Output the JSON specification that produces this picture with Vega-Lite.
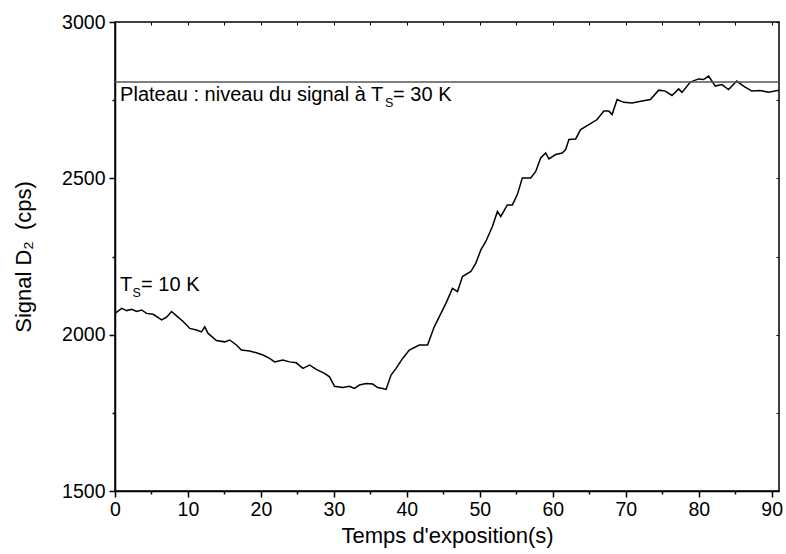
{
  "$schema": "https://vega.github.io/schema/vega-lite/v6.json",
  "width": 664,
  "height": 469,
  "autosize": {"type": "none"},
  "padding": {"left": 115, "top": 22, "right": 7, "bottom": 63},
  "background": "white",
  "config": {
    "font": "Liberation Sans",
    "view": {"stroke": "black", "strokeWidth": 1.5},
    "axis": {"grid": false, "domainColor": "black", "domainWidth": 1.5, "tickColor": "black", "tickWidth": 1.5, "labelColor": "black", "titleColor": "black", "labelFont": "Liberation Sans", "titleFont": "Liberation Sans", "titleFontWeight": "normal", "labelFontSize": 19.5, "titleFontSize": 22}
  },
  "datasets": {
    "signal": [
      {"t": 0, "v": 2068}, {"t": 0.92, "v": 2084}, {"t": 1.6, "v": 2077}, {"t": 2.28, "v": 2081},
      {"t": 2.97, "v": 2074}, {"t": 3.65, "v": 2079}, {"t": 4.33, "v": 2068}, {"t": 5.24, "v": 2065},
      {"t": 6.39, "v": 2047}, {"t": 7.07, "v": 2056}, {"t": 7.75, "v": 2074}, {"t": 8.44, "v": 2060},
      {"t": 9.34, "v": 2042}, {"t": 10.25, "v": 2020}, {"t": 11.17, "v": 2015}, {"t": 11.85, "v": 2009},
      {"t": 12.3, "v": 2025}, {"t": 12.76, "v": 2004}, {"t": 13.9, "v": 1981}, {"t": 15.04, "v": 1977},
      {"t": 15.72, "v": 1983}, {"t": 16.64, "v": 1967}, {"t": 17.32, "v": 1951}, {"t": 18.46, "v": 1948},
      {"t": 19.37, "v": 1942}, {"t": 20.28, "v": 1935}, {"t": 21.19, "v": 1924}, {"t": 21.88, "v": 1913},
      {"t": 23.01, "v": 1919}, {"t": 23.93, "v": 1913}, {"t": 24.84, "v": 1910}, {"t": 25.75, "v": 1892},
      {"t": 26.66, "v": 1903}, {"t": 27.58, "v": 1889}, {"t": 28.71, "v": 1876}, {"t": 29.4, "v": 1865},
      {"t": 30.08, "v": 1835}, {"t": 31.21, "v": 1831}, {"t": 32.13, "v": 1835}, {"t": 32.81, "v": 1828},
      {"t": 33.5, "v": 1839}, {"t": 34.41, "v": 1844}, {"t": 35.32, "v": 1842}, {"t": 36.0, "v": 1831},
      {"t": 36.68, "v": 1828}, {"t": 37.15, "v": 1825}, {"t": 37.83, "v": 1871}, {"t": 38.52, "v": 1892},
      {"t": 39.42, "v": 1924}, {"t": 40.33, "v": 1951}, {"t": 41.7, "v": 1967}, {"t": 42.84, "v": 1967},
      {"t": 43.75, "v": 2025}, {"t": 44.67, "v": 2068}, {"t": 45.35, "v": 2100}, {"t": 46.25, "v": 2148},
      {"t": 46.94, "v": 2138}, {"t": 47.62, "v": 2186}, {"t": 48.77, "v": 2202}, {"t": 49.45, "v": 2229},
      {"t": 50.14, "v": 2271}, {"t": 50.82, "v": 2298}, {"t": 51.72, "v": 2346}, {"t": 52.41, "v": 2394},
      {"t": 52.87, "v": 2378}, {"t": 53.77, "v": 2415}, {"t": 54.46, "v": 2415}, {"t": 55.14, "v": 2448},
      {"t": 55.82, "v": 2501}, {"t": 56.97, "v": 2501}, {"t": 57.66, "v": 2522}, {"t": 58.34, "v": 2565},
      {"t": 59.02, "v": 2581}, {"t": 59.47, "v": 2562}, {"t": 60.39, "v": 2576}, {"t": 61.29, "v": 2581},
      {"t": 61.76, "v": 2592}, {"t": 62.21, "v": 2624}, {"t": 63.13, "v": 2626}, {"t": 63.81, "v": 2656},
      {"t": 64.94, "v": 2672}, {"t": 66.08, "v": 2688}, {"t": 66.99, "v": 2715}, {"t": 67.68, "v": 2715},
      {"t": 68.13, "v": 2704}, {"t": 68.81, "v": 2752}, {"t": 69.73, "v": 2743}, {"t": 70.86, "v": 2741},
      {"t": 72.23, "v": 2747}, {"t": 73.38, "v": 2752}, {"t": 74.51, "v": 2782}, {"t": 75.43, "v": 2779},
      {"t": 76.33, "v": 2765}, {"t": 77.25, "v": 2786}, {"t": 77.7, "v": 2775}, {"t": 78.85, "v": 2808},
      {"t": 79.98, "v": 2818}, {"t": 80.67, "v": 2816}, {"t": 81.35, "v": 2827}, {"t": 82.27, "v": 2795},
      {"t": 83.17, "v": 2800}, {"t": 84.08, "v": 2784}, {"t": 85.22, "v": 2811}, {"t": 86.14, "v": 2795},
      {"t": 87.27, "v": 2779}, {"t": 88.42, "v": 2781}, {"t": 89.55, "v": 2775}, {"t": 91.0, "v": 2782}
    ]
  },
  "layer": [
    {
      "data": {"name": "signal"},
      "mark": {"type": "line", "color": "black", "strokeWidth": 1.5, "clip": true},
      "encoding": {
        "x": {"field": "t", "type": "quantitative", "scale": {"domain": [0, 91], "nice": false, "zero": false},
          "axis": {"orient": "bottom", "title": "Temps d'exposition(s)", "values": [0,5,10,15,20,25,30,35,40,45,50,55,60,65,70,75,80,85,90],
            "labelExpr": "datum.value % 10 === 0 ? datum.label : ''", "tickSize": {"condition": {"test": "datum.value % 10 === 0", "value": 6}, "value": 3},
            "labelPadding": 3, "titlePadding": 7, "labelFlush": false, "labelOverlap": false}},
        "y": {"field": "v", "type": "quantitative", "scale": {"domain": [1500, 3000], "nice": false, "zero": false},
          "axis": {"orient": "left", "title": "Signal D₂\u2002(cps)", "values": [1500,1750,2000,2250,2500,2750,3000],
            "labelExpr": "datum.value % 500 === 0 ? datum.label : ''", "format": "d", "tickSize": {"condition": {"test": "datum.value % 500 === 0", "value": 6}, "value": 3},
            "labelPadding": 4, "titlePadding": 26, "labelFlush": false, "labelOverlap": false}}
      }
    },
    {
      "data": {"values": [{"level": 2808}]},
      "mark": {"type": "rule", "color": "#555555", "strokeWidth": 1.5},
      "encoding": {"y": {"field": "level", "type": "quantitative", "axis": null}}
    },
    {
      "data": {"values": [{"t": 0.7, "v": 2746, "txt": "Plateau : niveau du signal à T"}]},
      "mark": {"type": "text", "align": "left", "baseline": "alphabetic", "fontSize": 20, "color": "black"},
      "encoding": {
        "x": {"field": "t", "type": "quantitative", "axis": {"orient": "top", "labels": false, "title": null, "domain": false, "values": [0,5,10,15,20,25,30,35,40,45,50,55,60,65,70,75,80,85,90], "tickSize": -3, "tickWidth": 1}},
        "y": {"field": "v", "type": "quantitative", "axis": {"orient": "right", "labels": false, "title": null, "domain": false, "values": [1500,1750,2000,2250,2500,2750,3000], "tickSize": -3, "tickWidth": 1}},
        "text": {"field": "txt"}
      }
    },
    {
      "data": {"values": [{"t": 0.7, "v": 2746, "txt": "S"}]},
      "mark": {"type": "text", "align": "left", "baseline": "alphabetic", "fontSize": 12.5, "dx": 265, "dy": 6, "color": "black"},
      "encoding": {"x": {"field": "t", "type": "quantitative", "axis": null}, "y": {"field": "v", "type": "quantitative", "axis": null}, "text": {"field": "txt"}}
    },
    {
      "data": {"values": [{"t": 0.7, "v": 2746, "txt": "= 30 K"}]},
      "mark": {"type": "text", "align": "left", "baseline": "alphabetic", "fontSize": 20, "dx": 273, "color": "black"},
      "encoding": {"x": {"field": "t", "type": "quantitative", "axis": null}, "y": {"field": "v", "type": "quantitative", "axis": null}, "text": {"field": "txt"}}
    },
    {
      "data": {"values": [{"t": 0.7, "v": 2141, "txt": "T"}]},
      "mark": {"type": "text", "align": "left", "baseline": "alphabetic", "fontSize": 20, "color": "black"},
      "encoding": {"x": {"field": "t", "type": "quantitative", "axis": null}, "y": {"field": "v", "type": "quantitative", "axis": null}, "text": {"field": "txt"}}
    },
    {
      "data": {"values": [{"t": 0.7, "v": 2141, "txt": "S"}]},
      "mark": {"type": "text", "align": "left", "baseline": "alphabetic", "fontSize": 12.5, "dx": 12.5, "dy": 6, "color": "black"},
      "encoding": {"x": {"field": "t", "type": "quantitative", "axis": null}, "y": {"field": "v", "type": "quantitative", "axis": null}, "text": {"field": "txt"}}
    },
    {
      "data": {"values": [{"t": 0.7, "v": 2141, "txt": "= 10 K"}]},
      "mark": {"type": "text", "align": "left", "baseline": "alphabetic", "fontSize": 20, "dx": 21, "color": "black"},
      "encoding": {"x": {"field": "t", "type": "quantitative", "axis": null}, "y": {"field": "v", "type": "quantitative", "axis": null}, "text": {"field": "txt"}}
    }
  ],
  "resolve": {"axis": {"x": "independent", "y": "independent"}}
}
